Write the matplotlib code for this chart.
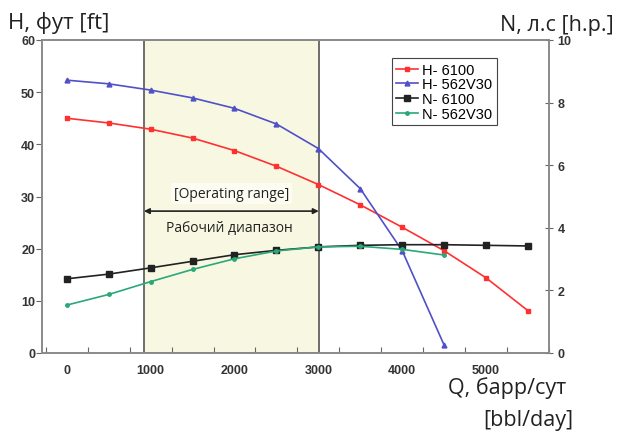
"""
Характеристики насосов 6100 и 562V30: напор H и мощность N от подачи Q
"""
import matplotlib.pyplot as plt

# подача, барр/сут
q_6100 = [0, 500, 1000, 1500, 2000, 2500, 3000, 3500, 4000, 4500, 5000, 5500]
q_562 = [0, 500, 1000, 1500, 2000, 2500, 3000, 3500, 4000, 4500]

# напор, фут
h_6100 = [45.0, 44.1, 42.9, 41.2, 38.8, 35.8, 32.3, 28.4, 24.1, 19.6, 14.4, 8.1]
h_562 = [52.3, 51.6, 50.4, 48.9, 46.9, 43.9, 39.2, 31.5, 19.6, 1.5]

# мощность, л.с.
n_6100 = [2.37, 2.52, 2.72, 2.93, 3.14, 3.28, 3.39, 3.44, 3.46, 3.46, 3.44, 3.42]
n_562 = [1.53, 1.87, 2.28, 2.67, 3.01, 3.26, 3.39, 3.41, 3.31, 3.13]

# рабочий диапазон
op_range = (920, 3005)

x_ticks = [0, 1000, 2000, 3000, 4000, 5000]
grid_ticks = [-250 + 500 * i for i in range(13)]

FONT = ["Open Sans", "DejaVu Sans"]
TICK_FONT = ["Liberation Sans", "DejaVu Sans"]

fig = plt.figure(figsize=(6.18, 4.35), dpi=100)
ax = fig.add_axes([42 / 618, 1 - 354 / 435, 507 / 618, 313 / 435])
ax2 = ax.twinx()

# жёлтая зона рабочего диапазона
ax.axvspan(op_range[0], op_range[1], facecolor="#f8f8e2", edgecolor="#555555", linewidth=1.2, zorder=0)

ax.plot(q_6100, h_6100, color="#ff3030", marker="s", markersize=3.5, linewidth=1.2, label="H- 6100")
ax.plot(q_562, h_562, color="#5050c8", marker="^", markersize=3.5, linewidth=1.2, label="H- 562V30")
ax2.plot(q_6100, n_6100, color="#222222", marker="s", markersize=5, linewidth=1.2, label="N- 6100")
ax2.plot(q_562, n_562, color="#2aa878", marker="o", markersize=2.5, linewidth=1.2, label="N- 562V30")

ax.set_xlim(-295, 5750)
ax.set_ylim(0, 60)
ax2.set_ylim(0, 10)

# засечки между подписями, как в исходном графике
ax.set_xticks(grid_ticks)
ax.set_xticklabels([])
ax.set_xticks(x_ticks, minor=True)
ax.set_xticklabels([str(v) for v in x_ticks], minor=True)
ax.tick_params(axis="x", which="minor", length=0, pad=8)
ax.tick_params(axis="x", which="major", length=4, direction="in", color="#666666")
ax.set_yticks(range(0, 61, 10))
ax.tick_params(axis="y", length=4, direction="out", color="#666666", pad=1)
ax2.set_yticks(range(0, 11, 2))
ax2.tick_params(axis="y", length=6, direction="inout", color="#666666", pad=3)

for lab in ax.get_xticklabels(minor=True) + ax.get_yticklabels() + ax2.get_yticklabels():
    lab.set_family(TICK_FONT)
    lab.set_fontsize(9)
    lab.set_fontweight("bold")
    lab.set_color("#333333")

for a in (ax, ax2):
    for s in a.spines.values():
        s.set_color("#8a8a8a")
        s.set_linewidth(1.2)

# стрелка и подписи рабочего диапазона
ax.annotate("", xy=(op_range[0], 27.2), xytext=(op_range[1], 27.2),
            arrowprops=dict(arrowstyle="<|-|>", color="#222222", linewidth=1.2, mutation_scale=8,
                            shrinkA=0, shrinkB=0), zorder=3)
ax.text(1960, 30.6, "[Operating range]", ha="center", va="center", fontsize=10, family=FONT, color="#222222",
        bbox=dict(boxstyle="square,pad=0.2", facecolor="#fcfcf2", edgecolor="none"))
ax.text(1940, 24.1, "Рабочий диапазон", ha="center", va="center", fontsize=10, family=FONT, color="#222222")

handles = ax.get_legend_handles_labels()[0] + ax2.get_legend_handles_labels()[0]
labels = [h.get_label() for h in handles]
leg = ax2.legend(handles, labels, loc="upper left", bbox_to_anchor=(0.675, 0.965), fancybox=False,
                 edgecolor="#444444", framealpha=1, handlelength=1.5, handletextpad=0.3, labelspacing=0.05,
                 borderpad=0.3, prop={"family": TICK_FONT, "size": 10.5})
leg.get_frame().set_linewidth(0.8)

# подписи осей
fig.text(8 / 618, 1 - 23 / 435, "H, фут [ft]", ha="left", va="center", fontsize=16, family=FONT, color="#222222")
fig.text(614 / 618, 1 - 25 / 435, "N, л.с [h.p.]", ha="right", va="center", fontsize=15.5, family=FONT,
         color="#222222")
fig.text(566 / 618, 1 - 388 / 435, "Q, барр/сут", ha="right", va="center", fontsize=15.5, family=FONT,
         color="#222222")
fig.text(573 / 618, 1 - 421 / 435, "[bbl/day]", ha="right", va="center", fontsize=15.5, family=FONT,
         color="#222222")

fig.savefig("out.png", dpi=100)
